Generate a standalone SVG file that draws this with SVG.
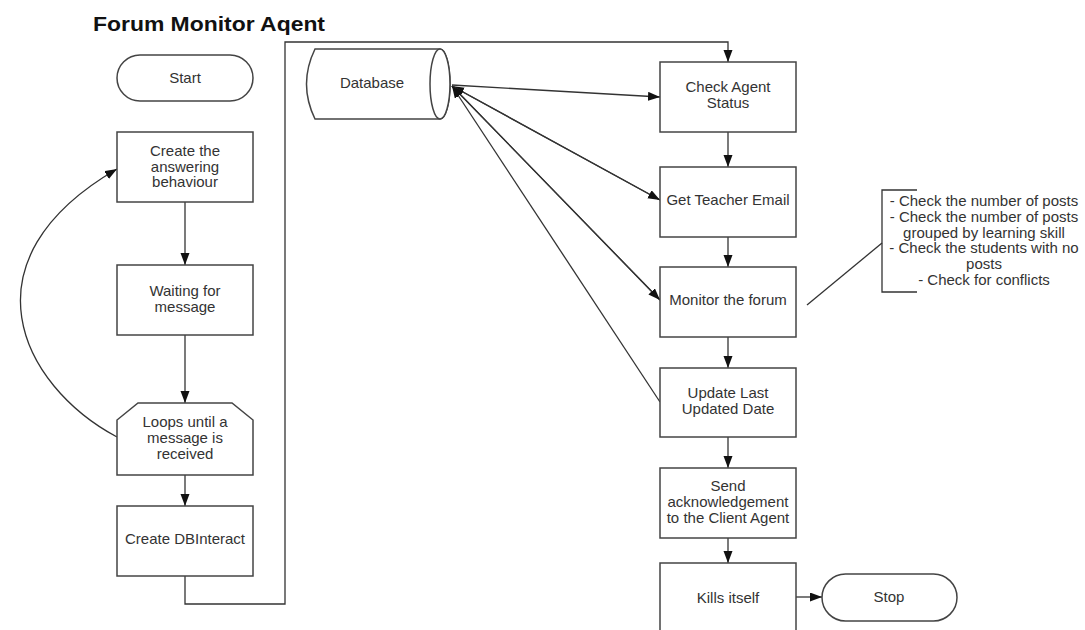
<svg xmlns="http://www.w3.org/2000/svg" width="1085" height="630" viewBox="0 0 1085 630">
<defs>
<marker id="arr" markerUnits="userSpaceOnUse" markerWidth="13" markerHeight="10" refX="12" refY="4.5" orient="auto">
<path d="M0,0 L12,4.5 L0,9 z" fill="#111"/>
</marker>
<style>
.box{fill:#fff;stroke:#444;stroke-width:1.5}
.t{font-family:"Liberation Sans",Arial,sans-serif;font-size:15px;fill:#333;text-anchor:middle}
.c{fill:none;stroke:#333;stroke-width:1.3}
.ca{fill:none;stroke:#333;stroke-width:1.3;marker-end:url(#arr)}
</style>
</defs>
<rect width="1085" height="630" fill="#fff"/>
<text x="93" y="31" font-family="Liberation Sans,Arial,sans-serif" font-weight="bold" font-size="20" fill="#111" textLength="232" lengthAdjust="spacingAndGlyphs">Forum Monitor Aqent</text>

<g id="connectors">
<path class="ca" d="M185,576 L185,604 L285,604 L285,42 L728,42 L728,62"/>
<path class="ca" d="M185,202 L185,265"/>
<path class="ca" d="M185,335 L185,403"/>
<path class="ca" d="M185,475 L185,506"/>
<path class="ca" d="M117,437 C20,385 -40,260 117,169"/>
<path class="ca" d="M452,85 L660,97"/>
<path class="ca" d="M660,200 L452,86"/>
<path class="ca" d="M452,86 L660,200"/>
<path class="ca" d="M660,300 L452,86"/>
<path class="ca" d="M452,86 L660,300"/>
<path class="ca" d="M660,402 L452,86"/>
<path class="ca" d="M728,132 L728,167"/>
<path class="ca" d="M728,237 L728,267"/>
<path class="ca" d="M728,337 L728,368"/>
<path class="ca" d="M728,437 L728,468"/>
<path class="ca" d="M728,538 L728,563"/>
<path class="ca" d="M796,597 L822,597"/>
<path class="c" d="M807,305 L882,243"/>
</g>

<g id="start"><rect class="box" x="117" y="55" width="136" height="46" rx="23"/><text class="t" x="185" y="83">Start</text></g>
<g id="create-behaviour"><rect class="box" x="117" y="132" width="136" height="70"/><text class="t" x="185" y="156">Create the</text><text class="t" x="185" y="172">answering</text><text class="t" x="185" y="187">behaviour</text></g>
<g id="waiting"><rect class="box" x="117" y="265" width="136" height="70"/><text class="t" x="185" y="296">Waiting for</text><text class="t" x="185" y="312">message</text></g>
<g id="loops"><path class="box" d="M138,403 L232,403 L253,420 L253,475 L117,475 L117,420 Z"/><text class="t" x="185" y="427">Loops until a</text><text class="t" x="185" y="443">message is</text><text class="t" x="185" y="459">received</text></g>
<g id="create-dbinteract"><rect class="box" x="117" y="506" width="136" height="70"/><text class="t" x="185" y="544">Create DBInteract</text></g>

<g id="database"><path class="box" d="M315,49 L440,49 A10,35 0 0 1 440,119 L315,119 Q298,84 315,49 Z"/><ellipse class="box" cx="440" cy="84" rx="10" ry="35"/><text class="t" x="372" y="88">Database</text></g>

<g id="check-status"><rect class="box" x="660" y="62" width="136" height="70"/><text class="t" x="728" y="92">Check Agent</text><text class="t" x="728" y="108">Status</text></g>
<g id="get-email"><rect class="box" x="660" y="167" width="136" height="70"/><text class="t" x="728" y="205">Get Teacher Email</text></g>
<g id="monitor"><rect class="box" x="660" y="267" width="136" height="70"/><text class="t" x="728" y="305">Monitor the forum</text></g>
<g id="update"><rect class="box" x="660" y="368" width="136" height="69"/><text class="t" x="728" y="398">Update Last</text><text class="t" x="728" y="414">Updated Date</text></g>
<g id="send-ack"><rect class="box" x="660" y="468" width="136" height="70"/><text class="t" x="728" y="491">Send</text><text class="t" x="728" y="507">acknowledgement</text><text class="t" x="728" y="523">to the Client Agent</text></g>
<g id="kills"><rect class="box" x="660" y="563" width="136" height="70"/><text class="t" x="728" y="603">Kills itself</text></g>
<g id="stop"><rect class="box" x="822" y="574" width="135" height="47" rx="23.5"/><text class="t" x="889" y="602">Stop</text></g>

<g id="annotation">
<path class="c" d="M917,190 L882,190 L882,292 L917,292"/>
<text class="t" x="984" y="206">- Check the number of posts</text>
<text class="t" x="984" y="222">- Check the number of posts</text>
<text class="t" x="984" y="238">grouped by learning skill</text>
<text class="t" x="984" y="253">- Check the students with no</text>
<text class="t" x="984" y="269">posts</text>
<text class="t" x="984" y="285">- Check for conflicts</text>
</g>
</svg>
